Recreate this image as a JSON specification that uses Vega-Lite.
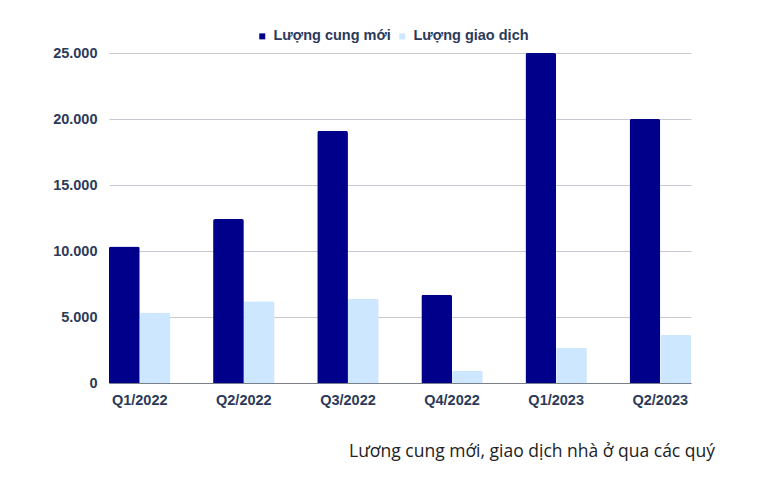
{
  "$schema": "https://vega.github.io/schema/vega-lite/v6.json",
  "width": 582,
  "height": 330,
  "autosize": "none",
  "padding": {"left": 109, "top": 53, "right": 81, "bottom": 99},
  "background": "white",
  "data": {
    "values": [
      {"quy": "Q1/2022", "loai": "Lượng cung mới", "so": 10350},
      {"quy": "Q1/2022", "loai": "Lượng giao dịch", "so": 5350},
      {"quy": "Q2/2022", "loai": "Lượng cung mới", "so": 12420},
      {"quy": "Q2/2022", "loai": "Lượng giao dịch", "so": 6200},
      {"quy": "Q3/2022", "loai": "Lượng cung mới", "so": 19100},
      {"quy": "Q3/2022", "loai": "Lượng giao dịch", "so": 6390},
      {"quy": "Q4/2022", "loai": "Lượng cung mới", "so": 6690},
      {"quy": "Q4/2022", "loai": "Lượng giao dịch", "so": 930},
      {"quy": "Q1/2023", "loai": "Lượng cung mới", "so": 25000},
      {"quy": "Q1/2023", "loai": "Lượng giao dịch", "so": 2670},
      {"quy": "Q2/2023", "loai": "Lượng cung mới", "so": 20000},
      {"quy": "Q2/2023", "loai": "Lượng giao dịch", "so": 3660}
    ]
  },
  "title": {
    "text": "Lương cung mới, giao dịch nhà ở qua các quý",
    "orient": "bottom",
    "anchor": "end",
    "font": "Open Sans",
    "fontSize": 17.5,
    "fontWeight": "normal",
    "color": "#222222",
    "offset": 36,
    "dx": 24
  },
  "mark": {"type": "bar", "cornerRadiusTopLeft": 2, "cornerRadiusTopRight": 2},
  "encoding": {
    "x": {
      "field": "quy",
      "type": "nominal",
      "sort": null,
      "scale": {"paddingInner": 0.41, "paddingOuter": 0},
      "axis": {
        "title": null,
        "labelAngle": 0,
        "labelFont": "Liberation Sans",
        "labelFontSize": 14.5,
        "labelFontWeight": "bold",
        "labelColor": "#2c3a5a",
        "labelPadding": 10,
        "ticks": false,
        "domainColor": "#7a7f8a",
        "domainWidth": 1.2
      }
    },
    "xOffset": {"field": "loai", "type": "nominal", "sort": null, "scale": {"paddingInner": 0}},
    "y": {
      "field": "so",
      "type": "quantitative",
      "scale": {"domain": [0, 25000]},
      "axis": {
        "title": null,
        "values": [0, 5000, 10000, 15000, 20000, 25000],
        "labelExpr": "replace(format(datum.value, ','), ',', '.')",
        "labelFont": "Liberation Sans",
        "labelFontSize": 14.5,
        "labelFontWeight": "bold",
        "labelColor": "#2c3a5a",
        "labelPadding": 12,
        "ticks": false,
        "domain": false,
        "gridColor": "#c8c8d2",
        "gridWidth": 1
      }
    },
    "color": {
      "field": "loai",
      "type": "nominal",
      "sort": null,
      "scale": {"range": ["#00008b", "#cce7ff"]},
      "legend": {
        "title": null,
        "orient": "none",
        "legendX": 146,
        "legendY": -24,
        "direction": "horizontal",
        "symbolType": "square",
        "symbolSize": 36,
        "labelOffset": 4,
        "labelFont": "Liberation Sans",
        "labelFontSize": 14.5,
        "labelFontWeight": "bold",
        "labelColor": "#2c3a5a",
        "columnPadding": 4
      }
    }
  },
  "config": {
    "view": {"stroke": null}
  }
}
